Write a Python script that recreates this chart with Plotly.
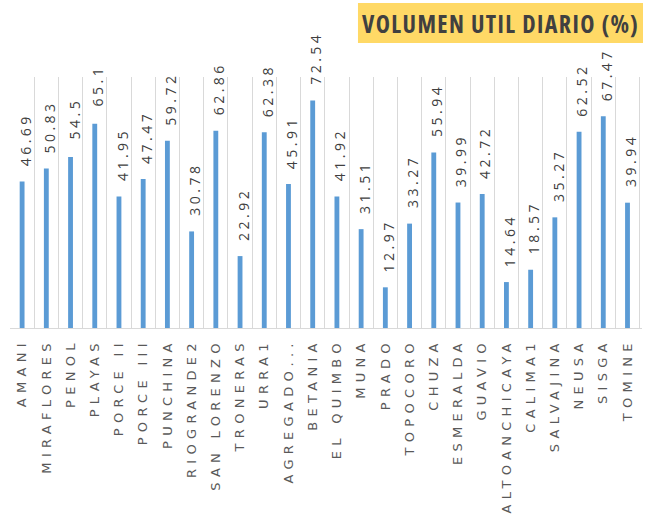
import plotly.graph_objects as go

categories = ["AMANI", "MIRAFLORES", "PENOL", "PLAYAS", "PORCE II", "PORCE III",
              "PUNCHINA", "RIOGRANDE2", "SAN LORENZO", "TRONERAS", "URRA1",
              "AGREGADO...", "BETANIA", "EL QUIMBO", "MUNA", "PRADO", "TOPOCORO",
              "CHUZA", "ESMERALDA", "GUAVIO", "ALTOANCHICAYA", "CALIMA1",
              "SALVAJINA", "NEUSA", "SISGA", "TOMINE"]
values = [46.69, 50.83, 54.5, 65.1, 41.95, 47.47, 59.72, 30.78, 62.86, 22.92,
          62.38, 45.91, 72.54, 41.92, 31.51, 12.97, 33.27, 55.94, 39.99, 42.72,
          14.64, 18.57, 35.27, 62.52, 67.47, 39.94]
title_text = "VOLUMEN UTIL DIARIO (%)"

fig = go.Figure()
fig.add_trace(go.Bar(x=categories, y=values, width=0.2,
                     marker=dict(color="#5B9BD5", line=dict(width=0)),
                     hoverinfo="x+y"))

annotations = []
for c, v in zip(categories, values):
    annotations.append(dict(x=c, y=v, xref="x", yref="y", text=f"{v:g}",
                            showarrow=False, textangle=-90, yanchor="bottom",
                            xanchor="center", yshift=22, xshift=3,
                            font=dict(family="Open Sans", size=14, color="#404040")))
annotations.append(dict(x=0.776, y=1.215, xref="paper", yref="paper", text=title_text,
                        showarrow=False, xanchor="center", yanchor="middle",
                        font=dict(family="Open Sans", size=24,
                                  color="#404040", weight="bold")))

fig.update_layout(
    width=645, height=522,
    margin=dict(l=10, r=3, t=77, b=194),
    paper_bgcolor="white", plot_bgcolor="white",
    showlegend=False,
    bargap=0.8,
    annotations=annotations,
    shapes=[dict(type="rect", xref="paper", yref="paper", x0=0.5506, x1=1.0016,
                 y0=1.1355, y1=1.2948, fillcolor="#FFD966", line=dict(width=0),
                 layer="below")],
    xaxis=dict(type="category", tickangle=-90, tickson="boundaries",
               showgrid=True, gridcolor="#D9D9D9", gridwidth=1,
               showline=True, linecolor="#D9D9D9", linewidth=1,
               ticks="", ticklen=0, automargin=False, ticklabelstandoff=4,
               tickfont=dict(family="DejaVu Sans", size=13, color="#595959")),
    yaxis=dict(range=[0, 80], showgrid=False, zeroline=False, showticklabels=False,
               showline=False, automargin=False),
)

post = """
document.body.style.margin = '0';
var st = document.createElement('style');
st.innerHTML = 'body{margin:0;} .xtick text { letter-spacing: 5.3px; } ' +
  '.annotation text.annotation-text { letter-spacing: 3.5px; } ' +
  '.annotation[data-index="26"] text.annotation-text { letter-spacing: 1.4px; font-stretch: 75%; }';
document.head.appendChild(st);
"""
fig.write_html("out.html", post_script=post, config={"displayModeBar": False})
